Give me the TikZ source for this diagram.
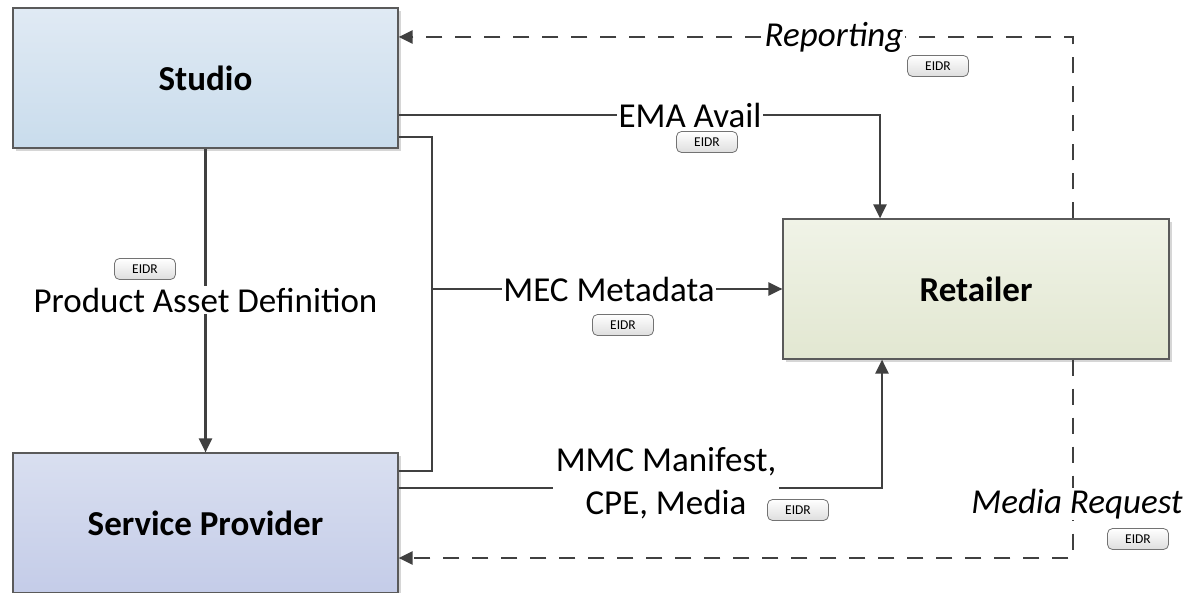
\documentclass[tikz,border=0pt]{standalone}
\usepackage{fontspec}
\setmainfont{Carlito}
\usetikzlibrary{arrows.meta,shadows}
\definecolor{linec}{HTML}{404040}
\definecolor{framec}{HTML}{5A5A5A}
\tikzstyle{box}=[rectangle, draw=framec, line width=1.2pt, minimum width=385pt, minimum height=140pt, inner sep=0pt, anchor=center, font=\fontsize{35}{42}\selectfont\bfseries, drop shadow={shadow xshift=3pt, shadow yshift=-3pt, fill=black!16, opacity=1}]
\tikzstyle{annot}=[align=center, fill=white, inner sep=1.5pt, font=\fontsize{35}{42.5}\selectfont]
\tikzstyle{tag}=[rectangle, rounded corners=5pt, draw=black!55, line width=0.8pt, top color=white, bottom color=black!13, minimum width=61pt, minimum height=21pt, inner sep=0pt, font=\fontsize{13.5}{15}\selectfont]
\tikzstyle{link}=[draw=linec, line width=2.3pt]
\tikzstyle{arrow}=[link, -{Triangle[length=14pt,width=13pt]}]
\tikzstyle{darrow}=[arrow, dash pattern=on 16pt off 13pt]
\begin{document}
\begin{tikzpicture}[x=1pt,y=-1pt]
	\clip (0,0) rectangle (1190,593);
	\fill[white] (0,0) rectangle (1190,593);

	% the three parties
	\node[box, top color={rgb,255:red,224;green,234;blue,244}, bottom color={rgb,255:red,201;green,220;blue,236}](studio) at (205.5,78){Studio};
	\node[box, top color={rgb,255:red,217;green,223;blue,240}, bottom color={rgb,255:red,196;green,204;blue,232}](service) at (205.5,523){Service Provider};
	\node[box, minimum width=386pt, top color={rgb,255:red,240;green,243;blue,231}, bottom color={rgb,255:red,226;green,231;blue,209}](retailer) at (976,289){Retailer};

	% bends
	\coordinate (ema) at (880,115);
	\coordinate (mecA) at (432,137);
	\coordinate (mecB) at (432,471);
	\coordinate (mmc) at (882,488);
	\coordinate (rep) at (1073,37);
	\coordinate (mreq) at (1073,558);

	% studio -> service provider
	\draw[arrow] (studio.south) -- (service.north);
	\node[annot](pad) at (205.5,300){Product Asset Definition};
	\node[tag](padtag) at (145,269){EIDR};

	% avails
	\draw[arrow] (studio.east |- ema) -- (ema) -- (retailer.north -| ema);
	\node[annot](emalbl) at (690,115){EMA Avail};
	\node[tag](ematag) at (707,142){EIDR};

	% metadata from both
	\draw[link] (studio.east |- mecA) -- (mecA) -- (mecB) -- (service.east |- mecB);
	\draw[arrow] (mecA |- retailer.west) -- (retailer.west);
	\node[annot](meclbl) at (609,289){MEC Metadata};
	\node[tag](mectag) at (623,325){EIDR};

	% manifest
	\draw[arrow] (service.east |- mmc) -- (mmc) -- (retailer.south -| mmc);
	\node[annot, inner sep=3pt](mmclbl) at (666,483){MMC Manifest,\\CPE, Media};
	\node[tag](mmctag) at (798,510){EIDR};

	% back channels
	\draw[darrow] (retailer.north -| rep) -- (rep) -- (studio.east |- rep);
	\node[annot, font=\fontsize{35}{42}\selectfont\itshape](replbl) at (834,37){Reporting};
	\node[tag](reptag) at (938,66){EIDR};

	\draw[darrow] (retailer.south -| mreq) -- (mreq) -- (service.east |- mreq);
	\node[annot, font=\fontsize{35}{42}\selectfont\itshape](mreqlbl) at (1077,504){Media Request};
	\node[tag](mreqtag) at (1138,539){EIDR};

\end{tikzpicture}
\end{document}
